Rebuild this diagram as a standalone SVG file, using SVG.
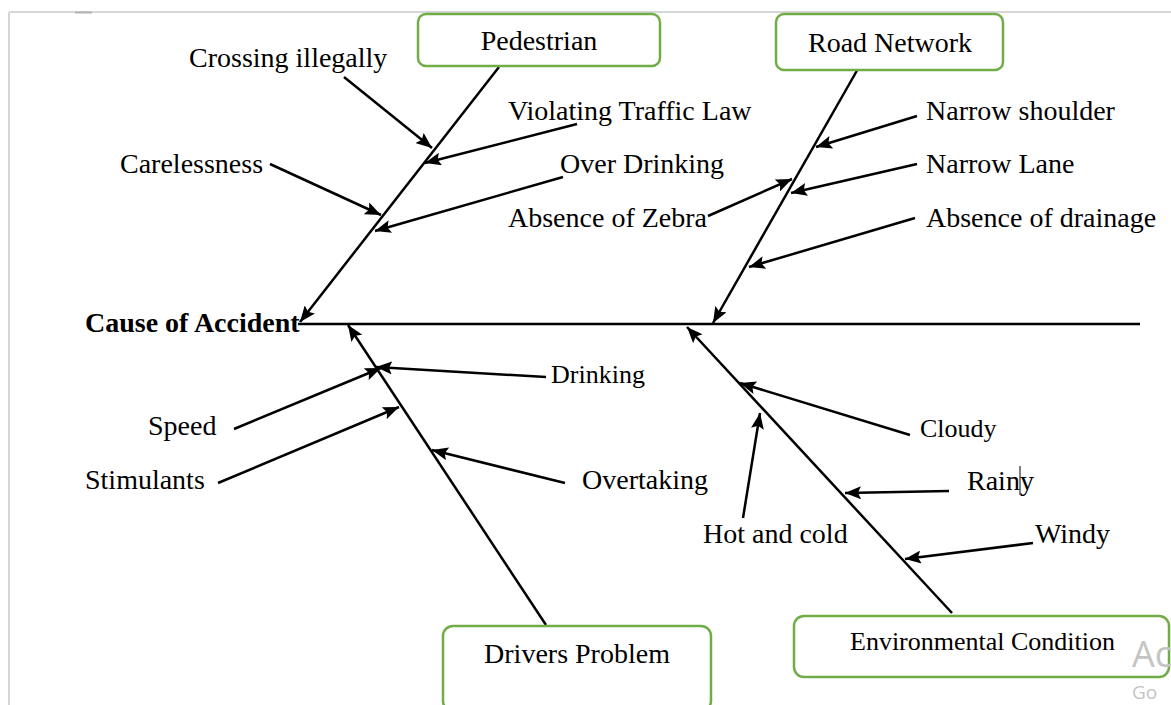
<svg xmlns="http://www.w3.org/2000/svg" width="1171" height="705" viewBox="0 0 1171 705">
<style>
  .lbl { font-family: "Liberation Serif", "Times New Roman", serif; font-size: 28px; fill: #000; }
  .sm { font-size: 26px; }
  .box { fill: #fff; stroke: #70ad47; stroke-width: 2.5; }
  .ln { stroke: #000; stroke-width: 2.5; fill: none; }
  .arr { stroke: #000; stroke-width: 2.5; fill: none; marker-end: url(#ah); }
</style>
<defs>
  <marker id="ah" markerUnits="userSpaceOnUse" markerWidth="17" markerHeight="13" refX="16" refY="6.5" orient="auto">
    <path d="M0,0 L16,6.5 L0,13 L3,6.5 z" fill="#000"/>
  </marker>
</defs>
<rect x="0" y="0" width="1171" height="705" fill="#fff"/>
<g id="page-border">
  <line x1="9" y1="12" x2="1171" y2="12" stroke="#d6d6d6" stroke-width="2"/>
  <line x1="9" y1="12" x2="9" y2="705" stroke="#d6d6d6" stroke-width="2"/>
  <line x1="75" y1="12.5" x2="92" y2="12.5" stroke="#b5b5b5" stroke-width="2"/>
</g>
<g id="connectors">
  <line class="ln" x1="298" y1="324" x2="1140" y2="324"/>
  <line class="arr" x1="499" y1="67" x2="300" y2="322"/>
  <line class="arr" x1="859" y1="67" x2="713" y2="323"/>
  <line class="arr" x1="546" y1="625" x2="348" y2="325"/>
  <line class="arr" x1="952" y1="613" x2="687" y2="327"/>
  <line class="arr" x1="344" y1="77" x2="432" y2="148"/>
  <line class="arr" x1="577" y1="124" x2="425" y2="163"/>
  <line class="arr" x1="270" y1="164" x2="381" y2="215"/>
  <line class="arr" x1="563" y1="177" x2="375" y2="231"/>
  <line class="arr" x1="708" y1="216" x2="792" y2="179"/>
  <line class="arr" x1="917" y1="116" x2="816" y2="147"/>
  <line class="arr" x1="917" y1="164" x2="791" y2="193"/>
  <line class="arr" x1="915" y1="218" x2="749" y2="267"/>
  <line class="arr" x1="546" y1="377" x2="376" y2="367"/>
  <line class="arr" x1="234" y1="429" x2="381" y2="368"/>
  <line class="arr" x1="218" y1="483" x2="399" y2="407"/>
  <line class="arr" x1="565" y1="483" x2="432" y2="450"/>
  <line class="arr" x1="910" y1="435" x2="740" y2="383"/>
  <line class="arr" x1="743" y1="518" x2="760" y2="413"/>
  <line class="arr" x1="949" y1="491" x2="845" y2="493"/>
  <line class="arr" x1="1033" y1="543" x2="905" y2="559"/>
</g>
<g id="head">
  <text class="lbl" x="85" y="332" font-weight="bold" font-size="27.5">Cause of Accident</text>
</g>
<g id="pedestrian">
  <rect class="box" x="418" y="14" width="242" height="52" rx="8"/>
  <text class="lbl" x="539" y="50" text-anchor="middle">Pedestrian</text>
</g>
<g id="road-network">
  <rect class="box" x="776" y="14" width="227" height="56" rx="8"/>
  <text class="lbl" x="890" y="52" text-anchor="middle">Road Network</text>
</g>
<g id="drivers-problem">
  <rect class="box" x="443" y="626" width="268" height="85" rx="10"/>
  <text class="lbl" x="577" y="663" text-anchor="middle">Drivers Problem</text>
</g>
<g id="environmental-condition">
  <rect class="box" x="794" y="616" width="375" height="61" rx="10"/>
  <text class="lbl sm" x="850" y="650">Environmental Condition</text>
</g>
<g id="crossing-illegally"><text class="lbl" x="189" y="67">Crossing illegally</text></g>
<g id="violating-traffic-law"><text class="lbl" x="508" y="120">Violating Traffic Law</text></g>
<g id="carelessness"><text class="lbl" x="120" y="173">Carelessness</text></g>
<g id="over-drinking"><text class="lbl" x="560" y="173">Over Drinking</text></g>
<g id="absence-of-zebra"><text class="lbl" x="508" y="227">Absence of Zebra</text></g>
<g id="narrow-shoulder"><text class="lbl" x="926" y="120">Narrow shoulder</text></g>
<g id="narrow-lane"><text class="lbl" x="926" y="173">Narrow Lane</text></g>
<g id="absence-of-drainage"><text class="lbl" x="926" y="227">Absence of drainage</text></g>
<g id="drinking"><text class="lbl sm" x="551" y="383">Drinking</text></g>
<g id="speed"><text class="lbl" x="148" y="435">Speed</text></g>
<g id="stimulants"><text class="lbl" x="85" y="489">Stimulants</text></g>
<g id="overtaking"><text class="lbl" x="582" y="489">Overtaking</text></g>
<g id="cloudy"><text class="lbl sm" x="920" y="437">Cloudy</text></g>
<g id="rainy">
  <text class="lbl" x="967" y="490">Rainy</text>
  <line x1="1020" y1="466" x2="1020" y2="495" stroke="#000" stroke-width="1"/>
</g>
<g id="hot-and-cold"><text class="lbl" x="703" y="543">Hot and cold</text></g>
<g id="windy"><text class="lbl" x="1035" y="543">Windy</text></g>
<g id="watermark" fill="#c4c4c4" font-family="'Open Sans', 'Noto Sans', sans-serif">
  <text x="1132" y="667" font-size="36">Ac</text>
  <text x="1132" y="699" font-size="19">Go</text>
</g>
</svg>
